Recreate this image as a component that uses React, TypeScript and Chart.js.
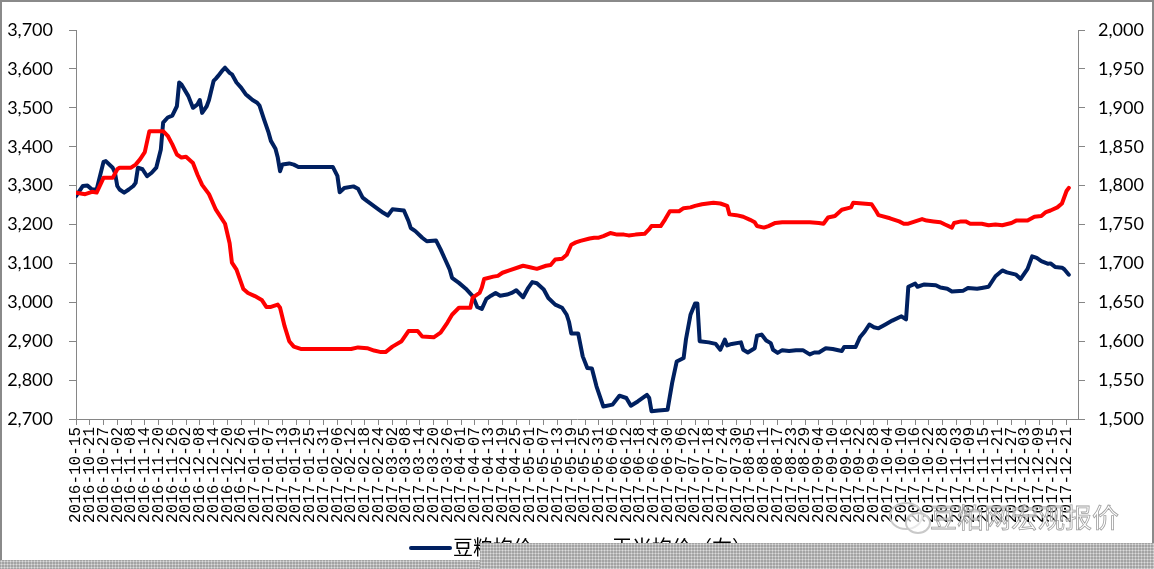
import React, { useEffect, useRef } from 'react';
import { Chart, registerables } from 'chart.js';

Chart.register(...registerables);

const xTickLabels = [
  '2016-10-15', '2016-10-21', '2016-10-27', '2016-11-02', '2016-11-08', '2016-11-14', '2016-11-20', '2016-11-26',
  '2016-12-02', '2016-12-08', '2016-12-14', '2016-12-20', '2016-12-26', '2017-01-01', '2017-01-07', '2017-01-13',
  '2017-01-19', '2017-01-25', '2017-01-31', '2017-02-06', '2017-02-12', '2017-02-18', '2017-02-24', '2017-03-02',
  '2017-03-08', '2017-03-14', '2017-03-20', '2017-03-26', '2017-04-01', '2017-04-07', '2017-04-13', '2017-04-19',
  '2017-04-25', '2017-05-01', '2017-05-07', '2017-05-13', '2017-05-19', '2017-05-25', '2017-05-31', '2017-06-06',
  '2017-06-12', '2017-06-18', '2017-06-24', '2017-06-30', '2017-07-06', '2017-07-12', '2017-07-18', '2017-07-24',
  '2017-07-30', '2017-08-05', '2017-08-11', '2017-08-17', '2017-08-23', '2017-08-29', '2017-09-04', '2017-09-10',
  '2017-09-16', '2017-09-22', '2017-09-28', '2017-10-04', '2017-10-10', '2017-10-16', '2017-10-22', '2017-10-28',
  '2017-11-03', '2017-11-09', '2017-11-15', '2017-11-21', '2017-11-27', '2017-12-03', '2017-12-09', '2017-12-15',
  '2017-12-21',
];
const daysPerTick = 6;

const seriesNames = ['豆粕均价', '玉米均价（右）'];

// days since 2016-10-15
const soyDays = [
  0, 3, 5, 7, 9, 12, 13, 16, 17, 18, 19, 21, 23, 25, 26, 27, 29, 31, 33, 35, 37, 38, 40, 42, 44, 45, 46, 49, 51, 53,
  54, 55, 57, 58, 60, 61, 62, 64, 65, 67, 68, 70, 72, 74, 75, 77, 79, 80, 82, 84, 85, 87, 88, 89, 90, 93, 95, 97, 112,
  114, 115, 117, 121, 123, 125, 127, 131, 134, 136, 138, 143, 145, 146, 148, 151, 153, 157, 159, 161, 163, 164, 167,
  170, 173, 175, 177, 179, 181, 183, 185, 188, 190, 192, 195, 197, 199, 201, 204, 206, 209, 212, 214, 215, 216, 219,
  221, 223, 225, 227, 230, 234, 237, 240, 242, 245, 249, 250, 251, 254, 258, 260, 262, 265, 266, 268, 270, 271, 272,
  276, 279, 281, 283, 284, 286, 290, 291, 293, 296, 297, 299, 301, 303, 304, 306, 308, 311, 314, 317, 320, 322, 324,
  327, 330, 334, 335, 340, 342, 344, 346, 348, 350, 353, 356, 360, 362, 363, 366, 367, 370, 375, 377, 380, 382, 387,
  389, 393, 395, 398, 401, 404, 406, 410, 412, 415, 417, 419, 421, 424, 425, 427, 430, 431, 433,
];
const soyPrices = [
  3273, 3299, 3300, 3290, 3290, 3361, 3363, 3346, 3333, 3299, 3290, 3282, 3290, 3299, 3307, 3346, 3342, 3324, 3333,
  3346, 3393, 3462, 3475, 3480, 3504, 3565, 3560, 3530, 3500, 3509, 3520, 3487, 3504, 3520, 3569, 3575, 3582, 3597,
  3603, 3590, 3586, 3565, 3552, 3535, 3530, 3520, 3513, 3506, 3470, 3436, 3415, 3395, 3372, 3337, 3354, 3357, 3354,
  3348, 3348, 3325, 3283, 3294, 3298, 3292, 3269, 3260, 3243, 3230, 3223, 3239, 3236, 3209, 3191, 3183, 3166, 3157,
  3159, 3136, 3110, 3084, 3063, 3050, 3035, 3016, 2988, 2983, 3009, 3017, 3024, 3017, 3020, 3024, 3031, 3013, 3035,
  3052, 3049, 3033, 3011, 2994, 2986, 2968, 2950, 2920, 2920, 2861, 2831, 2830, 2784, 2732, 2737, 2760, 2754, 2734,
  2745, 2762, 2754, 2720, 2722, 2724, 2793, 2848, 2857, 2904, 2968, 2997, 2997, 2900, 2897, 2893, 2878, 2904, 2889,
  2893, 2897, 2878, 2871, 2882, 2914, 2917, 2902, 2895, 2878, 2870, 2877, 2875, 2877, 2877, 2866, 2871, 2871, 2882,
  2880, 2875, 2885, 2885, 2911, 2925, 2943, 2936, 2933, 2943, 2953, 2964, 2956, 3040, 3048, 3040, 3046, 3044, 3038,
  3035, 3028, 3030, 3037, 3035, 3037, 3040, 3067, 3082, 3077, 3071, 3060, 3086, 3118, 3114, 3106, 3099, 3100, 3091,
  3089, 3085, 3071,
];

const cornDays = [
  0, 4, 7, 9, 12, 16, 18, 19, 24, 26, 28, 30, 32, 38, 40, 42, 44, 46, 48, 51, 53, 55, 58, 61, 65, 67, 68, 70, 73, 75,
  78, 81, 83, 85, 88, 89, 91, 93, 95, 98, 117, 120, 123, 127, 130, 133, 135, 138, 142, 145, 149, 151, 156, 159, 162,
  164, 167, 172, 173, 176, 177, 178, 182, 184, 186, 189, 194, 195, 198, 201, 205, 207, 209, 212, 214, 216, 218, 220,
  224, 226, 228, 230, 233, 236, 239, 241, 244, 248, 250, 251, 255, 257, 259, 263, 265, 268, 270, 273, 278, 281, 284,
  285, 288, 291, 294, 296, 297, 300, 302, 305, 308, 316, 320, 324, 326, 328, 331, 334, 338, 339, 343, 347, 349, 350,
  355, 359, 361, 363, 369, 371, 374, 377, 379, 382, 383, 386, 388, 390, 395, 398, 401, 404, 408, 410, 415, 418, 421,
  423, 425, 428, 430, 432, 433,
];
const cornPrices = [
  1791, 1789, 1792, 1791, 1810, 1810, 1821, 1823, 1823, 1827, 1834, 1843, 1870, 1870, 1864, 1853, 1840, 1836, 1837,
  1829, 1814, 1801, 1789, 1769, 1751, 1726, 1701, 1692, 1667, 1662, 1658, 1653, 1644, 1644, 1647, 1643, 1619, 1600,
  1593, 1590, 1590, 1590, 1592, 1591, 1588, 1586, 1586, 1593, 1600, 1613, 1613, 1606, 1605, 1611, 1624, 1634, 1643,
  1643, 1656, 1662, 1669, 1680, 1683, 1684, 1688, 1691, 1696, 1697, 1695, 1693, 1697, 1698, 1705, 1706, 1711, 1724,
  1727, 1729, 1732, 1733, 1733, 1735, 1739, 1737, 1737, 1736, 1737, 1738, 1744, 1748, 1748, 1757, 1767, 1767, 1771,
  1772, 1774, 1776, 1778, 1777, 1774, 1763, 1762, 1760, 1756, 1753, 1748, 1746, 1748, 1752, 1753, 1753, 1753, 1752,
  1751, 1759, 1761, 1769, 1772, 1778, 1777, 1776, 1767, 1762, 1758, 1754, 1751, 1751, 1757, 1755, 1754, 1753, 1750,
  1746, 1752, 1754, 1754, 1751, 1751, 1749, 1750, 1749, 1752, 1755, 1755, 1760, 1761, 1766, 1768, 1772, 1777, 1793,
  1797,
];

const W = 1154;
const H = 569;
const AREA_LEFT = 76;
const AREA_RIGHT = 1078;
const AREA_TOP = 30;
const AREA_BOTTOM = 419;

const axisGray = '#868686';

export default function App() {
  const ref = useRef<HTMLCanvasElement>(null);

  useEffect(() => {
    const canvas = ref.current;
    if (!canvas) return;
    const chart = new Chart(canvas, {
      type: 'line',
      data: {
        datasets: [
          {
            label: seriesNames[0],
            data: soyDays.map((d, i) => ({ x: d, y: soyPrices[i] })),
            yAxisID: 'y',
            borderColor: '#002060',
            backgroundColor: '#002060',
            borderWidth: 4,
            pointRadius: 0,
            tension: 0,
            borderJoinStyle: 'round',
            borderCapStyle: 'round',
            order: 1,
          },
          {
            label: seriesNames[1],
            data: cornDays.map((d, i) => ({ x: d, y: cornPrices[i] })),
            yAxisID: 'y1',
            borderColor: '#FF0000',
            backgroundColor: '#FF0000',
            borderWidth: 4,
            pointRadius: 0,
            tension: 0,
            borderJoinStyle: 'round',
            borderCapStyle: 'round',
            order: 0,
          },
        ],
      },
      options: {
        responsive: false,
        animation: false,
        events: [],
        layout: { padding: { top: AREA_TOP, left: 0, right: 0, bottom: 0 } },
        plugins: { legend: { display: false }, tooltip: { enabled: false } },
        scales: {
          x: {
            type: 'linear',
            min: 0,
            max: 437,
            afterBuildTicks: (s: any) => {
              s.ticks = xTickLabels.map((_, i) => ({ value: i * daysPerTick }));
            },
            afterFit: (s: any) => {
              s.height = H - AREA_BOTTOM;
            },
            grid: { drawOnChartArea: false, drawTicks: true, tickLength: 6, color: axisGray },
            border: { color: axisGray, width: 1 },
            ticks: {
              autoSkip: false,
              minRotation: 90,
              maxRotation: 90,
              padding: 2,
              color: '#000',
              font: { family: 'Liberation Mono', size: 16 },
              callback: (_v: any, i: number) => xTickLabels[i],
            },
          },
          y: {
            type: 'linear',
            position: 'left',
            min: 2700,
            max: 3700,
            afterFit: (s: any) => {
              s.width = AREA_LEFT;
            },
            grid: { drawOnChartArea: false, drawTicks: true, tickLength: 7, color: axisGray },
            border: { color: axisGray, width: 1 },
            ticks: {
              stepSize: 100,
              padding: 16,
              color: '#000',
              font: { family: 'Lato', size: 18 },
              callback: (v: any) => Number(v).toLocaleString('en-US'),
            },
          },
          y1: {
            type: 'linear',
            position: 'right',
            min: 1500,
            max: 2000,
            afterFit: (s: any) => {
              s.width = W - AREA_RIGHT;
            },
            grid: { drawOnChartArea: false, drawTicks: true, tickLength: 7, color: axisGray },
            border: { color: axisGray, width: 1 },
            ticks: {
              stepSize: 50,
              padding: 13,
              color: '#000',
              font: { family: 'Lato', size: 18 },
              callback: (v: any) => Number(v).toLocaleString('en-US'),
            },
          },
        },
      },
    });
    return () => chart.destroy();
  }, []);

  const band: React.CSSProperties = {
    position: 'absolute',
    backgroundColor: '#a3a3a3',
    backgroundImage: 'radial-gradient(circle, #dcdcdc 0.7px, transparent 1.3px)',
    backgroundSize: '3px 3px',
  };

  const legendText: React.CSSProperties = {
    position: 'absolute',
    top: 535,
    fontFamily: '"Noto Sans CJK SC", sans-serif',
    fontSize: 20,
    lineHeight: '24px',
    color: '#000',
    whiteSpace: 'nowrap',
  };

  return (
    <div style={{ position: 'fixed', left: 0, top: 0, width: W, height: H, background: '#fff', overflow: 'hidden' }}>
      <canvas ref={ref} width={W} height={H} style={{ position: 'absolute', left: 0, top: 0, width: W, height: H }} />
      {/* legend */}
      <div style={{ position: 'absolute', left: 409, top: 546, width: 43, height: 4, background: '#002060', borderRadius: 2 }} />
      <div style={{ ...legendText, left: 453 }}>{seriesNames[0]}</div>
      <div style={{ position: 'absolute', left: 566, top: 546, width: 43, height: 4, background: '#FF0000', borderRadius: 2 }} />
      <div style={{ ...legendText, left: 612 }}>{seriesNames[1]}</div>
      {/* watermark */}
      <div
        style={{
          position: 'absolute',
          left: 889,
          top: 502,
          width: 34,
          height: 28,
          borderRadius: '50%',
          border: '2px solid #c9c9c9',
          boxSizing: 'border-box',
        }}
      />
      <div
        style={{
          position: 'absolute',
          left: 905,
          top: 512,
          width: 26,
          height: 22,
          borderRadius: '50%',
          border: '2px solid #c9c9c9',
          background: 'rgba(255,255,255,0.6)',
          boxSizing: 'border-box',
        }}
      />
      <div
        style={{
          position: 'absolute',
          left: 930,
          top: 500,
          fontFamily: '"Noto Sans CJK SC", sans-serif',
          fontSize: 27,
          lineHeight: '34px',
          color: 'rgba(255,255,255,0.55)',
          WebkitTextStroke: '0.8px #a0a0a0',
          whiteSpace: 'nowrap',
        }}
      >
        豆粕网宏观报价
      </div>
      {/* frame and bottom band */}
      <div
        style={{
          position: 'absolute',
          left: 0,
          top: 0,
          width: W,
          height: H,
          border: '2px solid #8a8a8a',
          boxSizing: 'border-box',
          pointerEvents: 'none',
        }}
      />
      <div style={{ ...band, left: 0, top: 560, width: 480, height: H - 560 }} />
      <div style={{ ...band, left: 480, top: 543, width: W - 480, height: H - 543 }} />
    </div>
  );
}
